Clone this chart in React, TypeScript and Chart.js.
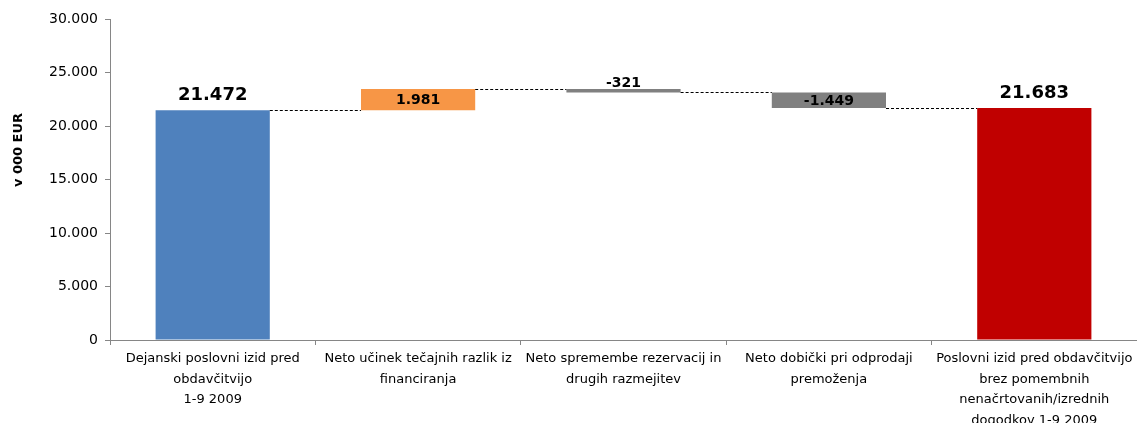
import React, { useEffect, useRef } from "react";
import { Chart, registerables } from "chart.js";

Chart.register(...registerables);

const categories: string[][] = [
  ["Dejanski poslovni izid pred", "obdavčitvijo", "1-9 2009"],
  ["Neto učinek tečajnih razlik iz", "financiranja"],
  ["Neto spremembe rezervacij in", "drugih razmejitev"],
  ["Neto dobički pri odprodaji", "premoženja"],
  ["Poslovni izid pred obdavčitvijo", "brez pomembnih", "nenačrtovanih/izrednih", "dogodkov 1-9 2009"],
];
const values: number[] = [21472, 1981, -321, -1449, 21683];
const kinds: string[] = ["total", "delta", "delta", "delta", "total"];
const colors: string[] = ["#4F81BD", "#F79646", "#808080", "#808080", "#C00000"];
const yTicks: number[] = [0, 5000, 10000, 15000, 20000, 25000, 30000];
const yTitle = "v 000 EUR";

const fmt = (n: number) => {
  const s = String(Math.abs(n)).replace(/\B(?=(\d{3})+(?!\d))/g, ".");
  return (n < 0 ? "-" : "") + s;
};

// build floating ranges
const ranges: [number, number][] = [];
{
  let running = 0;
  values.forEach((v, i) => {
    if (kinds[i] === "total") {
      ranges.push([0, v]);
      running = v;
    } else {
      ranges.push([running, running + v]);
      running = running + v;
    }
  });
}

const FONT = "'DejaVu Sans', Verdana, sans-serif";

const overlayPlugin = {
  id: "overlay",
  afterDatasetsDraw(chart: any) {
    const ctx = chart.ctx;
    const meta = chart.getDatasetMeta(0);
    const yScale = chart.scales.y;
    ctx.save();
    // connectors
    ctx.strokeStyle = "#000";
    ctx.lineWidth = 1;
    ctx.setLineDash([3, 2]);
    for (let i = 0; i < ranges.length - 1; i++) {
      const a = meta.data[i];
      const b = meta.data[i + 1];
      const level = ranges[i][1];
      const y = Math.round(yScale.getPixelForValue(level)) + 0.5;
      ctx.beginPath();
      ctx.moveTo(a.x + a.width / 2, y);
      ctx.lineTo(b.x - b.width / 2, y);
      ctx.stroke();
    }
    ctx.setLineDash([]);
    // labels
    ctx.fillStyle = "#000";
    ctx.textAlign = "center";
    ranges.forEach((r, i) => {
      const el = meta.data[i];
      const top = yScale.getPixelForValue(Math.max(r[0], r[1]));
      const bot = yScale.getPixelForValue(Math.min(r[0], r[1]));
      const txt = fmt(values[i]);
      if (kinds[i] === "total") {
        ctx.font = `bold 18px ${FONT}`;
        ctx.textBaseline = "bottom";
        ctx.fillText(txt, el.x, top - 6);
      } else if (bot - top < 8) {
        ctx.font = `bold 14px ${FONT}`;
        ctx.textBaseline = "bottom";
        ctx.fillText(txt, el.x, top + 1);
      } else {
        ctx.font = `bold 14px ${FONT}`;
        ctx.textBaseline = "middle";
        ctx.fillText(txt, el.x, (top + bot) / 2 + 1);
      }
    });
    // y title
    ctx.translate(19, 150);
    ctx.rotate(-Math.PI / 2);
    ctx.font = `bold 13px ${FONT}`;
    ctx.textBaseline = "middle";
    ctx.textAlign = "center";
    ctx.fillText(yTitle, 0, 0);
    ctx.restore();
  },
};

export default function App() {
  const ref = useRef<HTMLCanvasElement>(null);
  useEffect(() => {
    if (!ref.current) return;
    const chart = new Chart(ref.current, {
      type: "bar",
      data: {
        labels: categories,
        datasets: [
          {
            data: ranges as any,
            backgroundColor: colors,
            borderWidth: 0,
            barPercentage: 0.556,
            categoryPercentage: 1,
          },
        ],
      },
      options: {
        responsive: false,
        animation: false,
        layout: { padding: { top: 19, left: 0, right: 0, bottom: 0 } },
        plugins: { legend: { display: false }, tooltip: { enabled: false } },
        scales: {
          x: {
            grid: { display: true, drawOnChartArea: false, tickLength: 5, color: "#868686", offset: true },
            border: { color: "#868686" },
            ticks: {
              color: "#000",
              font: { family: FONT, size: 13, lineHeight: 1.6 },
              padding: 3,
              maxRotation: 0,
              autoSkip: false,
            },
            afterFit: (s: any) => {
              s.height = 83;
            },
          },
          y: {
            min: 0,
            max: 30000,
            afterBuildTicks: (s: any) => {
              s.ticks = yTicks.map((v) => ({ value: v }));
            },
            grid: { display: true, drawOnChartArea: false, tickLength: 5, color: "#868686" },
            border: { color: "#868686" },
            ticks: {
              color: "#000",
              font: { family: FONT, size: 14 },
              padding: 7,
              callback: (v: any) => fmt(Number(v)),
            },
            afterFit: (s: any) => {
              s.width = 110;
            },
          },
        },
      },
      plugins: [overlayPlugin],
    });
    return () => chart.destroy();
  }, []);
  return (
    <div style={{ position: "fixed", left: 0, top: 0, width: 1137, height: 423, background: "#fff" }}>
      <canvas ref={ref} width={1137} height={423} />
    </div>
  );
}
